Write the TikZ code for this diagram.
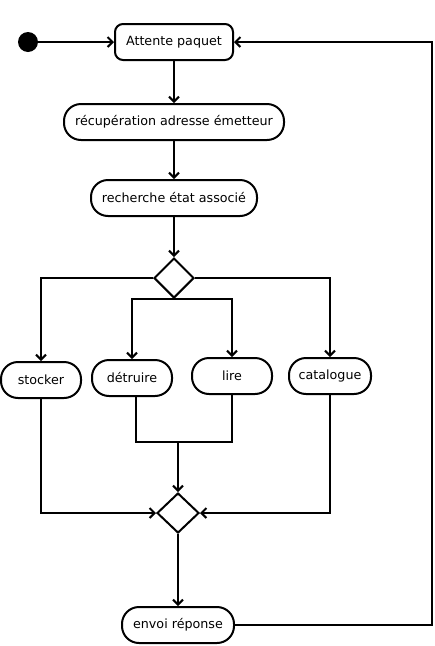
\documentclass[tikz,border=0pt]{standalone}
\usepackage{fontspec}
\setmainfont{DejaVu Sans}
\usetikzlibrary{arrows.meta,shapes.geometric}
\begin{document}
\begin{tikzpicture}[x=1pt,y=-1pt,
  every node/.style={font=\fontsize{12.7}{15}\selectfont},
  act/.style={draw,line width=2pt,rounded corners=17pt,minimum height=36pt,inner sep=0pt},
  firstact/.style={draw,line width=2pt,rounded corners=8pt,minimum height=36pt,inner sep=0pt},
  choice/.style={draw,diamond,line width=2pt,minimum width=40pt,minimum height=40pt,inner sep=0pt},
  flow/.style={line width=2pt,-{Straight Barb[length=5pt,width=10pt,line width=2pt]}},
  plain/.style={line width=2pt}]
\useasboundingbox (0,0) rectangle (435,646);
\node[circle,fill,inner sep=0pt,minimum size=20pt] (start) at (28,42) {};
\node[firstact,minimum width=118pt] (attente) at (174,42) {Attente paquet};
\node[act,minimum width=220pt] (recup) at (174,122) {récupération adresse émetteur};
\node[act,minimum width=166pt] (recherche) at (174,198) {recherche état associé};
\node[choice] (d1) at (174,278) {};
\node[act,minimum width=80pt] (stocker) at (41,380) {stocker};
\node[act,minimum width=80pt] (detruire) at (132,378) {détruire};
\node[act,minimum width=80pt] (lire) at (232,376) {lire};
\node[act,minimum width=82pt] (catalogue) at (330,376) {catalogue};
\node[choice,minimum width=42pt] (d2) at (178,513) {};
\node[act,minimum width=112pt] (envoi) at (178,625) {envoi réponse};
\coordinate (jd) at (136,442);
\coordinate (jl) at (232,442);
\coordinate (jm) at (178,442);
\coordinate (rb) at (432,625);
\coordinate (rt) at (432,42);

\draw[flow] (start) -- (attente);
\draw[flow] (attente) -- (recup);
\draw[flow] (recup) -- (recherche);
\draw[flow] (recherche) -- (d1);
\draw[flow] (d1.west) -| (stocker.north);
\draw[flow] (d1.east) -| (catalogue.north);
\draw[flow] (d1.south) -| (detruire.north);
\draw[flow] (d1.south) -| (lire.north);
\draw[plain] (detruire.south -| jd) -- (jd) -- (jl) -- (lire.south);
\draw[flow] (jm) -- (d2.north);
\draw[flow] (stocker.south) |- (d2.west);
\draw[flow] (catalogue.south) |- (d2.east);
\draw[flow] (d2.south) -- (envoi.north);
\draw[flow] (envoi.east) -- (rb) -- (rt) -- (attente.east);
\end{tikzpicture}
\end{document}
